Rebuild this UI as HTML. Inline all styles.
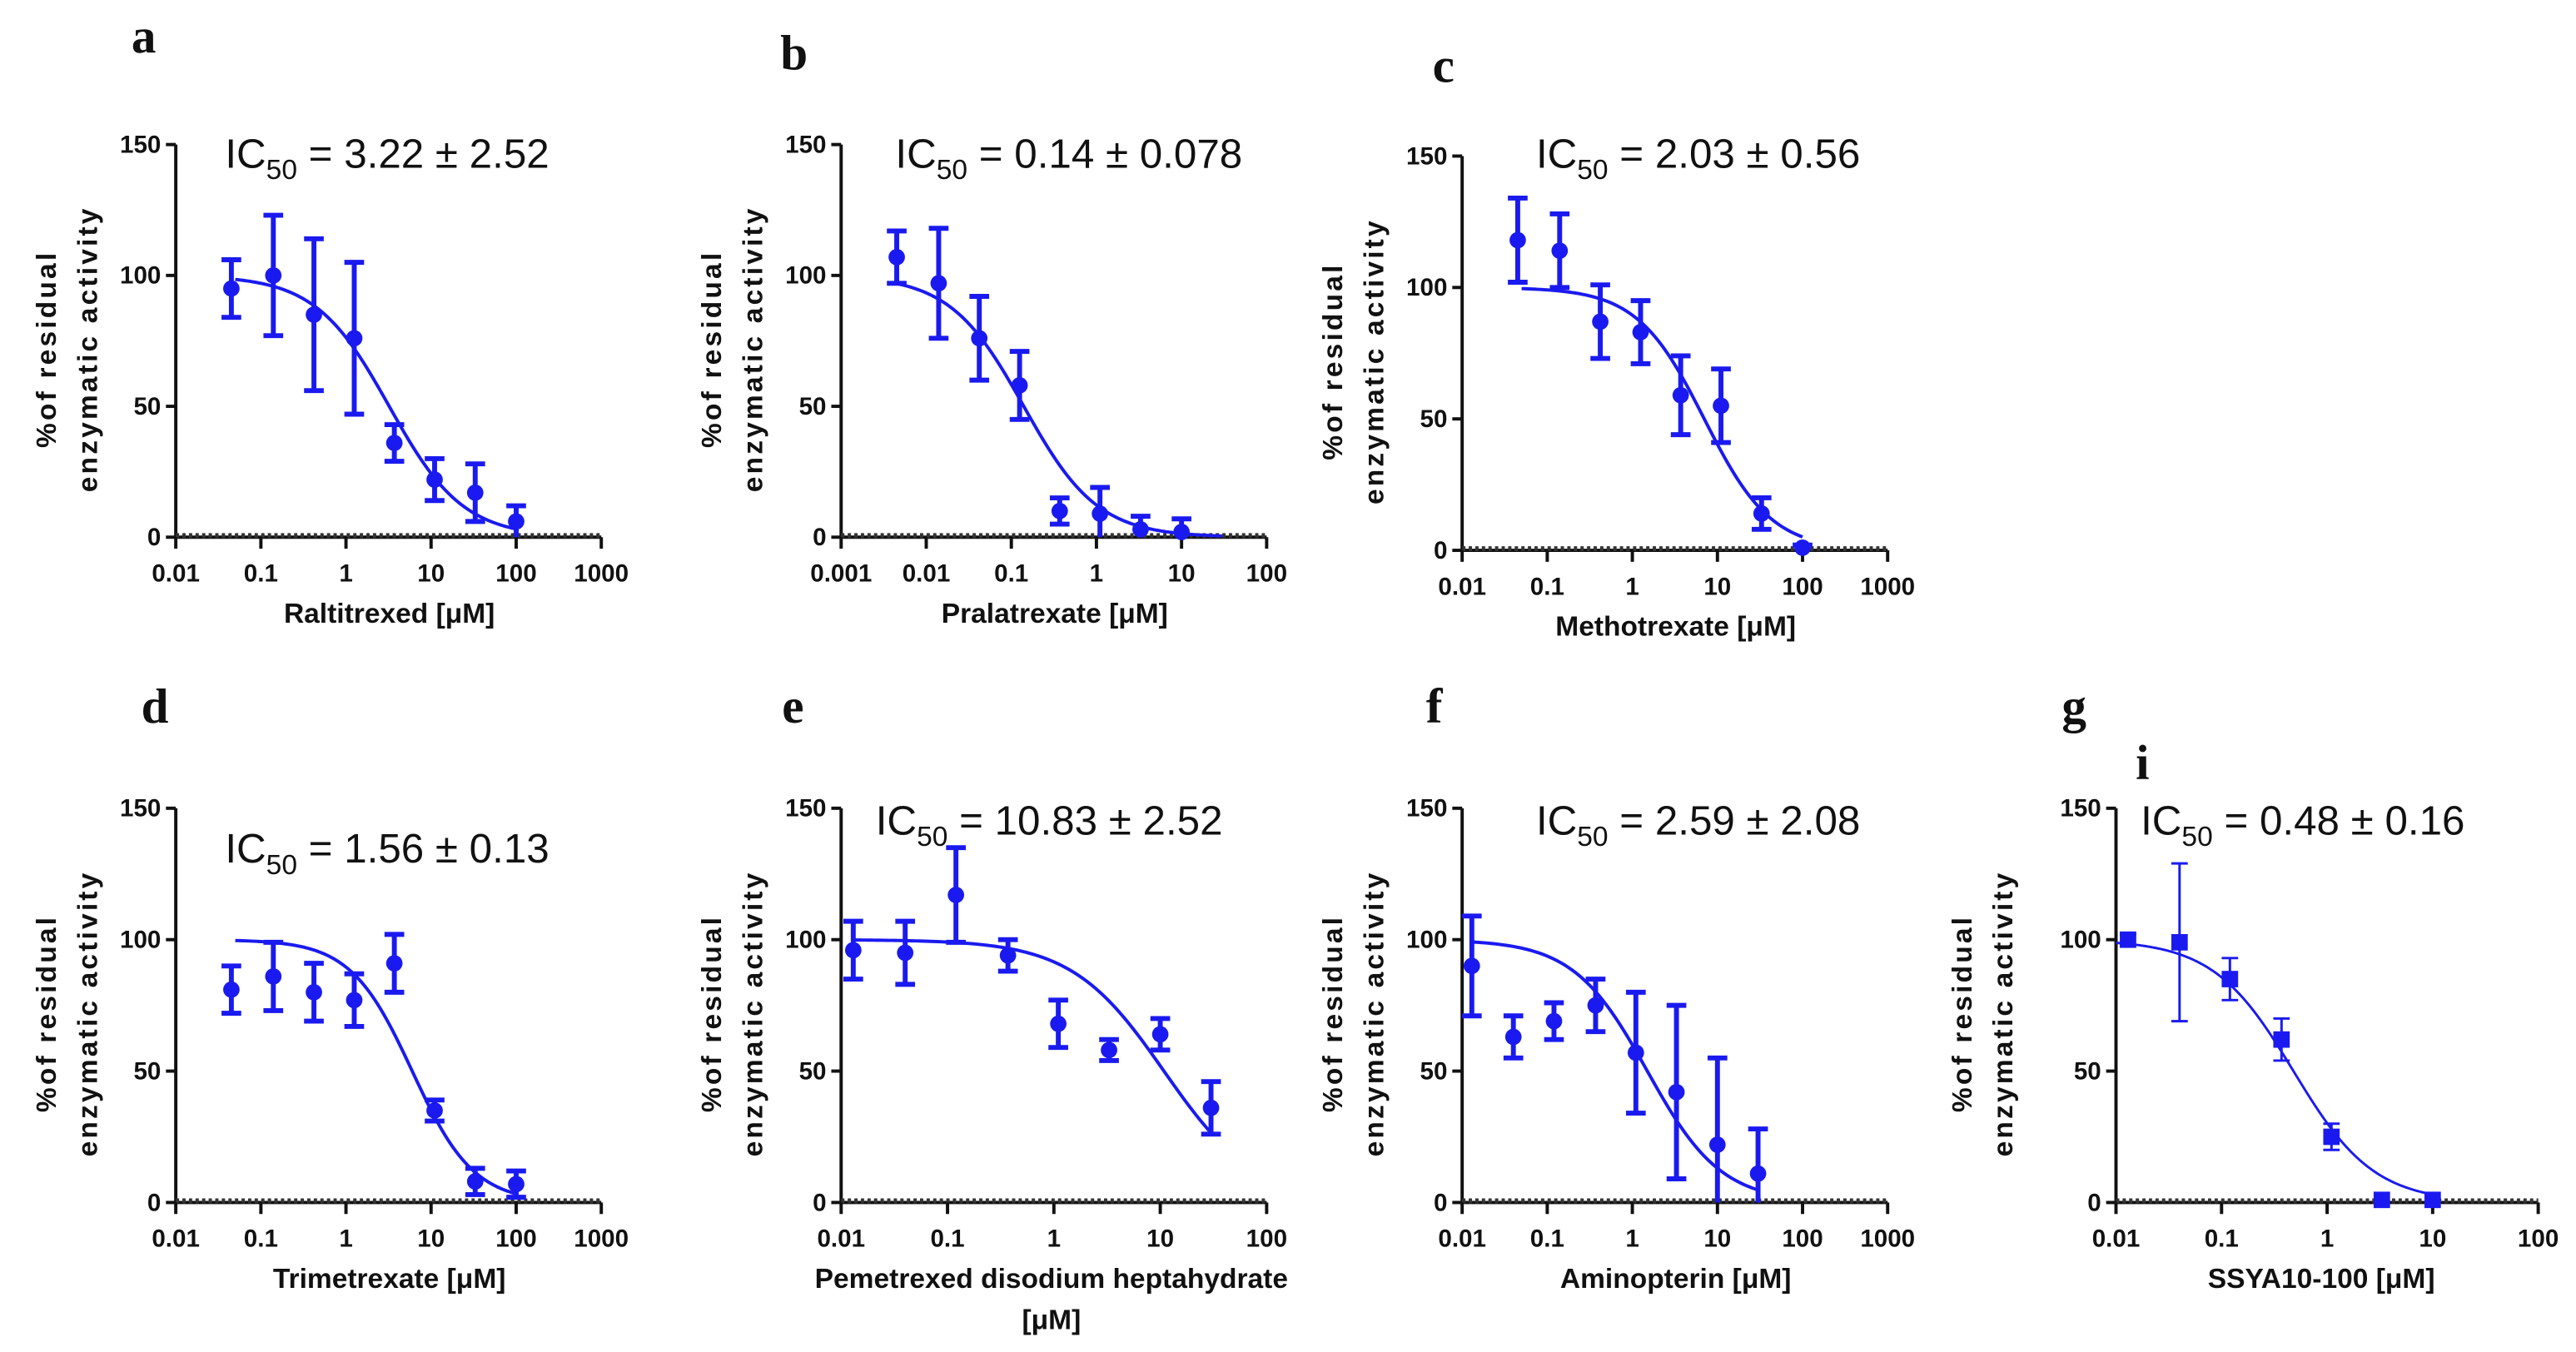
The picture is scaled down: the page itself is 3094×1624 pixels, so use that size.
<!DOCTYPE html>
<html><head><meta charset="utf-8">
<style>
html,body{margin:0;padding:0;background:#fff;}
svg{display:block;}
.tick{font-family:"Liberation Sans Narrow","Liberation Sans",sans-serif;font-weight:bold;font-size:15px;fill:#111;}
.axl{font-family:"Liberation Sans Narrow","Liberation Sans",sans-serif;font-weight:bold;font-size:17px;fill:#111;}
.yl{font-family:"Liberation Sans",sans-serif;font-weight:bold;font-size:17px;letter-spacing:1.6px;fill:#111;}
.ic{font-family:"Liberation Sans Narrow","Liberation Sans",sans-serif;font-size:25px;fill:#111;}
.let{font-family:"Liberation Serif",serif;font-weight:bold;font-size:30px;fill:#111;}
</style></head>
<body>
<svg id="fig" width="3094" height="1624" viewBox="0 0 1568 823" preserveAspectRatio="none" xmlns="http://www.w3.org/2000/svg"></svg>
<script>
// Panel a - Raltitrexed
const aX=[0.045,0.14,0.42,1.25,3.7,11,33,100];
const aY=[95,100,85,76,36,22,17,6];
const aErr=[11,23,29,29,7,8,11,6];
// Panel b - Pralatrexate
const bX=[0.0045,0.014,0.042,0.125,0.37,1.1,3.3,10];
const bY=[107,97,76,58,10,9,3,2];
const bErr=[10,21,16,13,5,10,5,5];
// Panel c - Methotrexate
const cX=[0.045,0.14,0.42,1.25,3.7,11,33,100];
const cY=[118,114,87,83,59,55,14,1];
const cErr=[16,14,14,12,15,14,6,1];
// Panel d - Trimetrexate
const dX=[0.045,0.14,0.42,1.25,3.7,11,33,100];
const dY=[81,86,80,77,91,35,8,7];
const dErr=[9,13,11,10,11,4,5,5];
// Panel e - Pemetrexed
const eX=[0.013,0.04,0.12,0.37,1.1,3.3,10,30];
const eY=[96,95,117,94,68,58,64,36];
const eErr=[11,12,18,6,9,4,6,10];
// Panel f - Aminopterin
const fX=[0.013,0.04,0.12,0.37,1.1,3.3,10,30];
const fY=[90,63,69,75,57,42,22,11];
const fErr=[19,8,7,10,23,33,33,17];
// Panel g - SSYA10-100
const gX=[0.013,0.04,0.12,0.37,1.1,3.3,10];
const gY=[100,99,85,62,25,1,1];
const gErr=[2,30,8,8,5,0,0];
// fitted curve parameters [IC50, hill, xStart, xEnd]
const aFit=[3.22,1,0.05,100];
const bFit=[0.14,1,0.004,30];
const cFit=[7,1.1,0.05,100];
const dFit=[6,1.2,0.05,100];
const eFit=[10.83,1,0.013,30];
const fFit=[1.5,1,0.013,30];
const gFit=[0.48,1.14,0.01,10];
const yTicks=[0,50,100,150];
const xTicks5a=["0.01","0.1","1","10","100","1000"];
const xTicks5b=["0.001","0.01","0.1","1","10","100"];
const xTicks4=["0.01","0.1","1","10","100"];

const NS="http://www.w3.org/2000/svg";
const svg=document.getElementById('fig');
function mk(tag,attrs,parent,text){const e=document.createElementNS(NS,tag);for(const k in attrs)e.setAttribute(k,attrs[k]);if(text!==undefined)e.textContent=text;(parent||svg).appendChild(e);return e;}

function panel(p){
  const g=mk('g',{});
  
  
  const lo=Math.log10(parseFloat(p.ticks[0])), hi=Math.log10(parseFloat(p.ticks[p.ticks.length-1]));
  const sx=v=>p.x0+(Math.log10(v)-lo)/(hi-lo)*(p.x1-p.x0);
  const sy=v=>p.y0-(v/150)*(p.y0-p.y150);
  const blue='#1a1af0';
  const L=mk('text',{x:p.lx,y:p.ly,class:'let'},g,p.id);
  
  
  const ya=mk('line',{x1:p.x0,y1:p.y150,x2:p.x0,y2:p.y0,stroke:'#111','stroke-width':2},g);
  
  
  yTicks.forEach(t=>{
    mk('line',{x1:p.x0-6,x2:p.x0,y1:sy(t),y2:sy(t),stroke:'#111','stroke-width':2},g);
    const tt=mk('text',{x:p.x0-9,y:sy(t)+5,class:'tick','text-anchor':'end'},g,t);
    
    
  });
  const xa=mk('line',{x1:p.x0,y1:p.y0,x2:p.x1,y2:p.y0,stroke:'#111','stroke-width':2},g);
  
  
  mk('line',{x1:p.x0,y1:p.y0-1,x2:p.x1,y2:p.y0-1,stroke:'#333','stroke-width':3,'stroke-dasharray':'2 2'},g);
  p.ticks.forEach(t=>{
    const x=sx(parseFloat(t));
    mk('line',{x1:x,x2:x,y1:p.y0,y2:p.y0+7,stroke:'#111','stroke-width':2},g);
    const tt=mk('text',{x:x,y:p.y0+27,class:'tick','text-anchor':'middle'},g,t);
    
    
  });
  p.xlabel.forEach((s,i)=>{
    const t=mk('text',{x:p.xlc,y:p.y0+52+i*25,class:'axl','text-anchor':'middle'},g,s);
    
    
  });
  const cy=(p.y0+p.y150)/2+5;
  const y1=mk('text',{x:0,y:0,class:'yl','text-anchor':'middle',transform:`translate(${p.ylx},${cy}) rotate(-90)`},g,'%of residual');
  
  
  const y2=mk('text',{x:0,y:0,class:'yl','text-anchor':'middle',transform:`translate(${p.ylx+25},${cy}) rotate(-90)`},g,'enzymatic activity');
  
  
  const ic=mk('text',{x:p.icx,y:p.icy,class:'ic'},g);
  
  
  ic.appendChild(document.createTextNode('IC'));
  mk('tspan',{dy:7,'font-size':17},ic,'50');
  mk('tspan',{dy:-7},ic,' = '+p.ic);
  const f=p.fit; let d='';
  for(let i=0;i<=120;i++){
    const lx=Math.log10(f[2])+(Math.log10(f[3])-Math.log10(f[2]))*i/120;
    const v=Math.pow(10,lx);
    const y=100/(1+Math.pow(v/f[0],f[1]));
    d+=(i?'L':'M')+sx(v).toFixed(2)+','+sy(y).toFixed(2);
  }
  const c=mk('path',{d:d,fill:'none',stroke:blue,'stroke-width':p.thin?1.5:2},g);
  
  
  p.xs.forEach((xv,i)=>{
    const X=sx(xv),Y=sy(p.ys[i]),e=p.err[i];
    const sw=p.thin?1.5:3, cap=p.thin?5:6;
    if(e>0){
      const lowV=p.ys[i]-e;
      let dd=`M${X},${sy(p.ys[i]+e)}V${sy(Math.max(lowV,0))}M${X-cap},${sy(p.ys[i]+e)}H${X+cap}`;
      if(lowV>0) dd+=`M${X-cap},${sy(lowV)}H${X+cap}`;
      const eb=mk('path',{d:dd,stroke:blue,'stroke-width':sw,fill:'none'},g);
      
      
    }
    let m;
    if(p.square) m=mk('rect',{x:X-5,y:Y-5,width:10,height:10,fill:blue},g);
    else m=mk('circle',{cx:X,cy:Y,r:5,fill:blue},g);
    
    
  });
}

panel({id:'a',x0:107,x1:366,y0:327,y150:88,ticks:xTicks5a,xs:aX,ys:aY,err:aErr,fit:aFit,lx:80,ly:32,icx:137,icy:102,ic:'3.22 ± 2.52',xlabel:['Raltitrexed [μM]'],xlc:237,ylx:34});
panel({id:'b',x0:512,x1:771,y0:327,y150:88,ticks:xTicks5b,xs:bX,ys:bY,err:bErr,fit:bFit,lx:475,ly:42,icx:545,icy:102,ic:'0.14 ± 0.078',xlabel:['Pralatrexate [μM]'],xlc:642,ylx:439});
panel({id:'c',x0:890,x1:1149,y0:335,y150:95,ticks:xTicks5a,xs:cX,ys:cY,err:cErr,fit:cFit,lx:872,ly:50,icx:935,icy:102,ic:'2.03 ± 0.56',xlabel:['Methotrexate [μM]'],xlc:1020,ylx:817});
panel({id:'d',x0:107,x1:366,y0:732,y150:492,ticks:xTicks5a,xs:dX,ys:dY,err:dErr,fit:dFit,lx:86,ly:440,icx:137,icy:525,ic:'1.56 ± 0.13',xlabel:['Trimetrexate [μM]'],xlc:237,ylx:34});
panel({id:'e',x0:512,x1:771,y0:732,y150:492,ticks:xTicks4,xs:eX,ys:eY,err:eErr,fit:eFit,lx:476,ly:440,icx:533,icy:508,ic:'10.83 ± 2.52',xlabel:['Pemetrexed disodium heptahydrate','[μM]'],xlc:640,ylx:439});
panel({id:'f',x0:890,x1:1149,y0:732,y150:492,ticks:xTicks5a,xs:fX,ys:fY,err:fErr,fit:fFit,lx:868,ly:440,icx:935,icy:508,ic:'2.59 ± 2.08',xlabel:['Aminopterin [μM]'],xlc:1020,ylx:817});
panel({id:'g',x0:1288,x1:1545,y0:732,y150:492,ticks:xTicks4,xs:gX,ys:gY,err:gErr,fit:gFit,lx:1255,ly:440,icx:1303,icy:508,ic:'0.48 ± 0.16',xlabel:['SSYA10-100 [μM]'],xlc:1413,ylx:1200,square:true,thin:true});
const st=mk('text',{x:1300,y:474,class:'let','font-size':'16'},svg,'i');


</script>
</body></html>
